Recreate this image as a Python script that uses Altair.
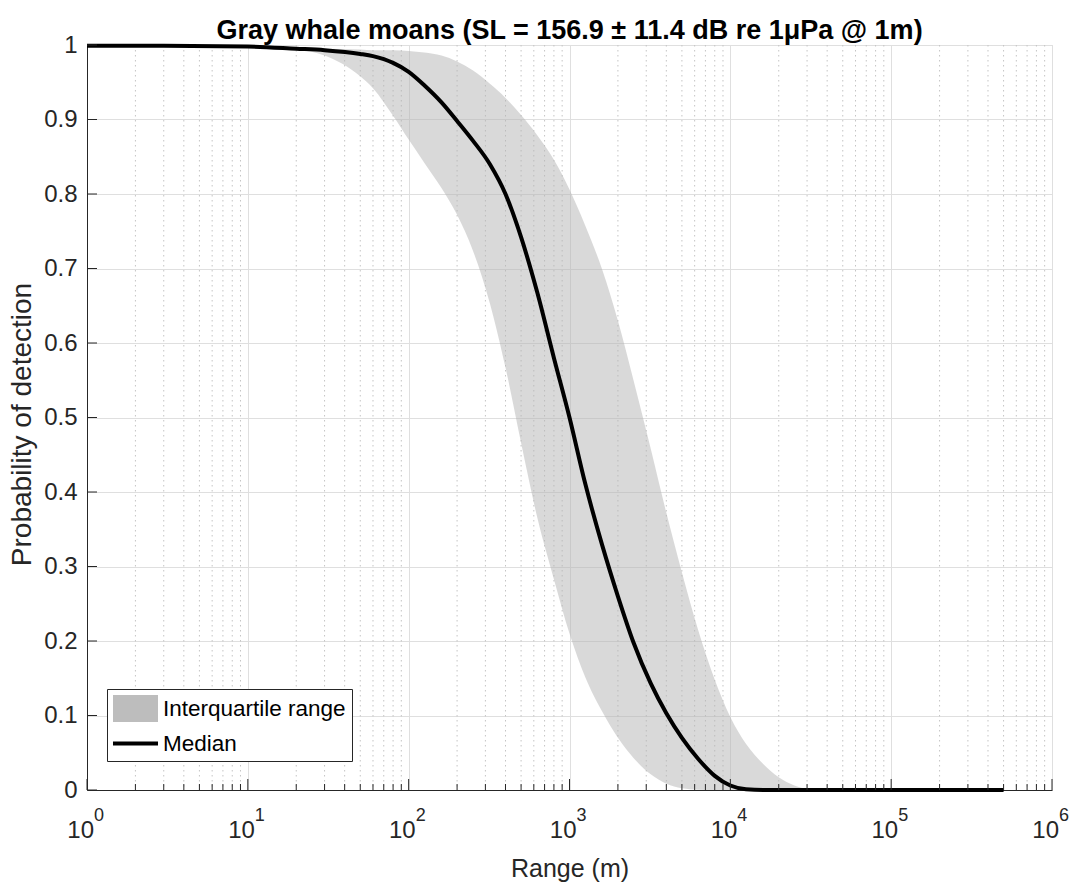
import altair as alt
import pandas as pd

# Detection-probability curve for gray whale moans versus range.
range_m = [1, 3, 10, 20, 30, 50, 60, 80, 100, 125, 160, 200, 250, 320, 400,
           500, 630, 800, 1000, 1250, 1600, 2000, 2500, 3200, 4000, 5000,
           6300, 8000, 10000, 12500, 16000, 20000, 25000, 32000, 100000, 500000]
median_p = [0.999, 0.999, 0.998, 0.995, 0.993, 0.988, 0.985, 0.976, 0.964,
            0.946, 0.923, 0.898, 0.872, 0.840, 0.800, 0.742, 0.668, 0.580,
            0.500, 0.412, 0.328, 0.260, 0.198, 0.143, 0.103, 0.070, 0.042,
            0.019, 0.006, 0.001, 0.0, 0.0, 0.0, 0.0, 0.0, 0.0]
iqr_low = [0.999, 0.999, 0.998, 0.994, 0.986, 0.958, 0.942, 0.905, 0.873,
           0.842, 0.808, 0.772, 0.725, 0.653, 0.567, 0.466, 0.366, 0.283,
           0.210, 0.152, 0.105, 0.070, 0.043, 0.021, 0.0085, 0.0025, 0.0005,
           0.0, 0.0, 0.0, 0.0, 0.0, 0.0, 0.0, 0.0, 0.0]
iqr_high = [0.999, 0.999, 0.998, 0.996, 0.995, 0.994, 0.993, 0.993, 0.992,
            0.990, 0.986, 0.978, 0.966, 0.948, 0.929, 0.906, 0.879, 0.846,
            0.806, 0.758, 0.698, 0.630, 0.550, 0.458, 0.372, 0.292, 0.215,
            0.148, 0.098, 0.062, 0.035, 0.017, 0.006, 0.001, 0.0, 0.0]

decades = [1, 10, 100, 1000, 10000, 100000, 1000000]
exponents = ["0", "1", "2", "3", "4", "5", "6"]
minor_ticks = [m * d for d in decades[:-1] for m in range(2, 10)]
prob_ticks = [round(0.1 * i, 1) for i in range(11)]
series_names = ["Interquartile range", "Median"]

W, H = 965, 745
SANS = "Liberation Sans, Arial, sans-serif"
AXIS_COLOR = "#262626"

curve = pd.DataFrame({"range": range_m, "median": median_p,
                      "low": iqr_low, "high": iqr_high})
decade_df = pd.DataFrame({"d": decades, "base": ["10"] * len(decades), "exp": exponents})
minor_df = pd.DataFrame({"v": minor_ticks})
prob_df = pd.DataFrame({"p": prob_ticks})
legend_df = pd.DataFrame({"series": series_names})

x_scale = alt.Scale(type="log", domain=[1, 1000000], nice=False)
y_scale = alt.Scale(domain=[0, 1], nice=False)

x_axis = alt.Axis(values=decades, grid=True, gridColor="#dfdfdf", ticks=False,
                  labels=False, domainColor=AXIS_COLOR, title="Range (m)",
                  titleFont=SANS, titleFontSize=25, titleFontWeight="normal",
                  titleColor=AXIS_COLOR, titleY=86, titleBaseline="alphabetic")
y_axis = alt.Axis(values=prob_ticks, format="~g", grid=True, gridColor="#dfdfdf",
                  ticks=False, labelFont=SANS, labelFontSize=24, labelPadding=10,
                  labelColor=AXIS_COLOR, domainColor=AXIS_COLOR,
                  title="Probability of detection", titleFont=SANS,
                  titleFontSize=28, titleFontWeight="normal", titleColor=AXIS_COLOR,
                  titleAngle=270, titleX=-65, titleY=379, titleBaseline="middle")

# dotted minor grid at 2..9 of every decade
minor_grid = alt.Chart(minor_df).mark_rule(
    color="#c4c4c4", strokeDash=[1.5, 3.5], strokeWidth=1
).encode(x=alt.X("v:Q", scale=x_scale, axis=x_axis))

band = alt.Chart(curve).mark_area(
    color="#b3b3b3", opacity=0.5, interpolate="monotone"
).encode(
    x=alt.X("range:Q", scale=x_scale, axis=x_axis),
    y=alt.Y("low:Q", scale=y_scale, axis=y_axis),
    y2="high:Q",
)

median = alt.Chart(curve).mark_line(
    color="black", strokeWidth=4, interpolate="monotone"
).encode(
    x=alt.X("range:Q", scale=x_scale, axis=x_axis),
    y=alt.Y("median:Q", scale=y_scale, axis=y_axis),
)

# inward-pointing ticks
minor_tick = alt.Chart(minor_df).mark_rule(color=AXIS_COLOR, strokeWidth=1).encode(
    x=alt.X("v:Q", scale=x_scale), y=alt.value(H), y2=alt.value(H - 6))
major_tick = alt.Chart(decade_df).mark_rule(color=AXIS_COLOR, strokeWidth=1).encode(
    x=alt.X("d:Q", scale=x_scale), y=alt.value(H), y2=alt.value(H - 11))
y_tick = alt.Chart(prob_df).mark_rule(color=AXIS_COLOR, strokeWidth=1).encode(
    y=alt.Y("p:Q", scale=y_scale), x=alt.value(0), x2=alt.value(10))

# decade labels written as 10 with a raised exponent
base_label = alt.Chart(decade_df).mark_text(
    font=SANS, fontSize=24, align="right", baseline="alphabetic", dx=7,
    color=AXIS_COLOR
).encode(x=alt.X("d:Q", scale=x_scale), y=alt.value(H + 48), text="base:N")
exp_label = alt.Chart(decade_df).mark_text(
    font=SANS, fontSize=18, align="left", baseline="alphabetic", dx=7,
    color=AXIS_COLOR
).encode(x=alt.X("d:Q", scale=x_scale), y=alt.value(H + 31), text="exp:N")

legend_cfg = alt.Legend(
    title=None, orient="none", legendX=20, legendY=644, padding=6,
    strokeColor=AXIS_COLOR, fillColor="white", labelFont=SANS,
    labelFontSize=22.5, labelColor="black", labelLimit=400, symbolSize=729,
    symbolOpacity=1, symbolStrokeWidth=0, symbolOffset=9, labelOffset=14,
    rowPadding=8, cornerRadius=0,
)
legend_layer = alt.Chart(legend_df).mark_point(filled=True, opacity=1).encode(
    color=alt.Color("series:N", legend=legend_cfg,
                    scale=alt.Scale(domain=series_names, range=["#bdbdbd", "black"])),
    shape=alt.Shape("series:N", legend=legend_cfg,
                    scale=alt.Scale(domain=series_names,
                                    range=["M-1.667,-1H1.667V1H-1.667Z",
                                           "M-1.667,-0.15H1.667V0.15H-1.667Z"])),
).transform_filter("false")

chart = alt.layer(
    minor_grid, band, median, minor_tick, major_tick, y_tick,
    base_label, exp_label, legend_layer
).properties(
    width=W, height=H,
    title=alt.TitleParams(
        text="Gray whale moans (SL = 156.9 ± 11.4 dB re 1μPa @ 1m)",
        font=SANS, fontSize=27, fontWeight="bold", color="black",
        anchor="middle", frame="group", baseline="bottom", offset=-10, dy=29,
    ),
    autosize=alt.AutoSizeParams(type="none"),
    padding={"left": 87, "top": 45, "right": 21, "bottom": 94},
).configure_view(strokeWidth=0).configure(background="white")

chart.save("out.html", embed_options={"renderer": "svg", "actions": False})
